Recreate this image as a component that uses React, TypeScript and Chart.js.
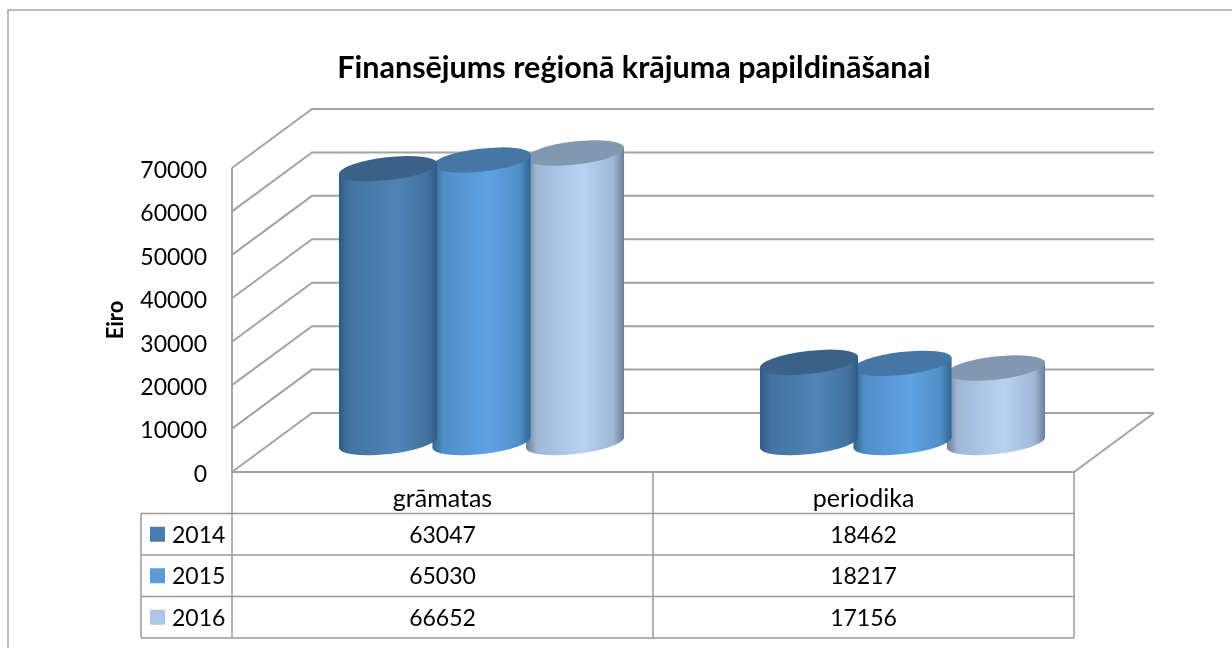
import React, { useEffect, useRef } from "react";
import { Chart, registerables } from "chart.js";

Chart.register(...registerables);

const categories = ["grāmatas", "periodika"];
const seriesNames = ["2014", "2015", "2016"];
const values2014 = [63047, 18462];
const values2015 = [65030, 18217];
const values2016 = [66652, 17156];
const yTicks = [0, 10000, 20000, 30000, 40000, 50000, 60000, 70000];
const titleText = "Finansējums reģionā krājuma papildināšanai";
const yAxisTitle = "Eiro";

const FONT = "Lato, Carlito, sans-serif";
const GRID = "#a3a3a3";
const TABLE = "#999999";
const DEPTH_X = 80;
const DEPTH_Y = 59;
const TILT = (-6.5 * Math.PI) / 180;

const palettes = [
  { swatch: "#4a7cad", top: "#3a6289", edge: "#2f5b86", shade: "#42749f", mid: "#4f84b8" },
  { swatch: "#5b9bd5", top: "#4477a6", edge: "#33648f", shade: "#4f8ec8", mid: "#5fa3e4" },
  { swatch: "#aec6e6", top: "#8098b0", edge: "#6b7d98", shade: "#a0b7d6", mid: "#b8d2f2" },
];

const walls = {
  id: "walls",
  beforeDatasetsDraw(chart: any) {
    const { ctx, chartArea: a, scales } = chart;
    const y = scales.y;
    ctx.save();
    ctx.strokeStyle = GRID;
    ctx.lineWidth = 2;
    ctx.lineJoin = "miter";
    for (const t of yTicks) {
      const p = y.getPixelForValue(t);
      ctx.beginPath();
      ctx.moveTo(a.left, p);
      ctx.lineTo(a.left + DEPTH_X, p - DEPTH_Y);
      ctx.lineTo(a.left + DEPTH_X + (a.right - a.left), p - DEPTH_Y);
      ctx.stroke();
    }
    ctx.beginPath();
    ctx.moveTo(a.left, y.getPixelForValue(70000));
    ctx.lineTo(a.left, a.bottom);
    ctx.lineTo(a.right, a.bottom);
    ctx.lineTo(a.right + DEPTH_X, a.bottom - DEPTH_Y);
    ctx.stroke();
    ctx.restore();
  },
};

const cylinders = {
  id: "cylinders",
  beforeDatasetDraw(chart: any, args: any) {
    const { ctx } = chart;
    const pal = palettes[args.index];
    ctx.save();
    for (const el of args.meta.data) {
      const cx = el.x + DEPTH_X / 2 - 1;
      const halfW = (el.width * 1.05) / 2;
      const topY = el.y - DEPTH_Y / 2;
      const baseY = el.base - DEPTH_Y / 2;
      const rx = halfW / Math.cos(TILT);
      const ry = 11.5;
      const grad = ctx.createLinearGradient(cx - halfW, 0, cx + halfW, 0);
      grad.addColorStop(0, pal.edge);
      grad.addColorStop(0.11, pal.shade);
      grad.addColorStop(0.58, pal.mid);
      grad.addColorStop(0.89, pal.shade);
      grad.addColorStop(1, pal.edge);
      const lift = Math.tan(-TILT) * halfW;
      ctx.beginPath();
      ctx.moveTo(cx - halfW, topY + lift);
      ctx.lineTo(cx - halfW, baseY + lift);
      ctx.ellipse(cx, baseY, rx, ry, TILT, Math.PI, 0, true);
      ctx.lineTo(cx + halfW, topY - lift);
      ctx.closePath();
      ctx.fillStyle = grad;
      ctx.fill();
      ctx.beginPath();
      ctx.ellipse(cx, topY, rx, ry, TILT, 0, Math.PI * 2);
      ctx.fillStyle = pal.top;
      ctx.fill();
    }
    ctx.restore();
    return false;
  },
};

const dataTable = {
  id: "dataTable",
  afterDraw(chart: any) {
    const { ctx, chartArea: a, scales, data } = chart;
    const x = scales.x;
    const rowH = 41.5;
    const firstRow = 513.5;
    const tableLeft = 141;
    ctx.save();
    ctx.strokeStyle = TABLE;
    ctx.lineWidth = 1.5;
    const mid = (a.left + a.right) / 2;
    for (const vx of [a.left, mid, a.right]) {
      ctx.beginPath();
      ctx.moveTo(vx, a.bottom);
      ctx.lineTo(vx, firstRow + rowH * 3);
      ctx.stroke();
    }
    ctx.beginPath();
    ctx.moveTo(tableLeft, firstRow);
    ctx.lineTo(tableLeft, firstRow + rowH * 3);
    ctx.stroke();
    for (let r = 0; r <= 3; r++) {
      ctx.beginPath();
      ctx.moveTo(tableLeft, firstRow + rowH * r);
      ctx.lineTo(a.right, firstRow + rowH * r);
      ctx.stroke();
    }
    ctx.font = `23px ${FONT}`;
    ctx.fillStyle = "#000000";
    ctx.textBaseline = "middle";
    data.datasets.forEach((ds: any, r: number) => {
      const cy = firstRow + rowH * r + rowH / 2 + 1;
      ctx.fillStyle = palettes[r].swatch;
      ctx.fillRect(150, cy - 8.5, 15, 15);
      ctx.fillStyle = "#000000";
      ctx.textAlign = "left";
      ctx.fillText(ds.label, 172, cy);
      ctx.textAlign = "center";
      ds.data.forEach((v: number, c: number) => {
        ctx.fillText(String(v), x.getPixelForValue(c), cy);
      });
    });
    ctx.restore();
  },
};

const frame = {
  id: "frame",
  beforeDraw(chart: any) {
    const { ctx } = chart;
    ctx.save();
    ctx.strokeStyle = "#a6a6a6";
    ctx.lineWidth = 1.5;
    ctx.beginPath();
    ctx.moveTo(8, 648);
    ctx.lineTo(8, 10);
    ctx.lineTo(1232, 10);
    ctx.stroke();
    ctx.restore();
  },
};

export default function App() {
  const ref = useRef<HTMLCanvasElement>(null);
  useEffect(() => {
    const chart = new Chart(ref.current as HTMLCanvasElement, {
      type: "bar",
      data: {
        labels: categories,
        datasets: [
          { label: seriesNames[0], data: values2014, backgroundColor: palettes[0].swatch },
          { label: seriesNames[1], data: values2015, backgroundColor: palettes[1].swatch },
          { label: seriesNames[2], data: values2016, backgroundColor: palettes[2].swatch },
        ],
      },
      options: {
        responsive: false,
        animation: false,
        layout: { padding: { left: 36, right: 0, top: 0, bottom: 0 } },
        datasets: { bar: { categoryPercentage: 0.666, barPercentage: 1 } },
        plugins: {
          legend: { display: false },
          tooltip: { enabled: false },
          title: {
            display: true,
            text: titleText,
            color: "#000000",
            font: { family: FONT, size: 30.5, weight: "bold" },
            padding: { top: 50, bottom: 81.4 },
          },
        },
        scales: {
          x: {
            grid: { display: false, drawTicks: false },
            border: { display: false },
            ticks: { color: "#000000", font: { family: FONT, size: 25 }, padding: 12, maxRotation: 0 },
            afterFit(s: any) { s.height = 176; },
          },
          y: {
            min: 0,
            max: 70000,
            grid: { display: false, drawTicks: false },
            border: { display: false },
            afterBuildTicks(s: any) { s.ticks = yTicks.map((value) => ({ value })); },
            ticks: {
              color: "#000000",
              font: { family: FONT, size: 23 },
              padding: 25,
              labelOffset: 2.5,
              callback: (v: any) => String(v),
            },
            title: {
              display: true,
              text: yAxisTitle,
              color: "#000000",
              font: { family: FONT, size: 22, weight: "bold" },
              padding: { top: 67, bottom: 0 },
            },
            afterFit(s: any) { s.width = 196; },
          },
          rightGap: {
            position: "right",
            grid: { display: false, drawTicks: false },
            border: { display: false },
            ticks: { display: false },
            afterFit(s: any) { s.width = 158; },
          },
        },
      },
      plugins: [frame, walls, cylinders, dataTable],
    } as any);
    return () => chart.destroy();
  }, []);
  return (
    <canvas
      ref={ref}
      width={1232}
      height={648}
      style={{ position: "absolute", left: 0, top: 0, width: 1232, height: 648, display: "block" }}
    />
  );
}
